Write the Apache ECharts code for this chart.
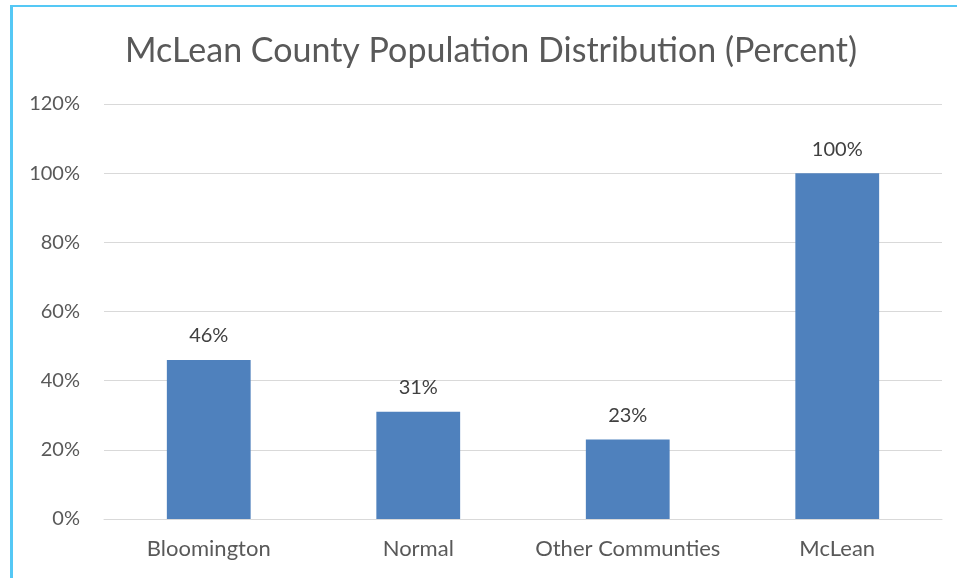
<!DOCTYPE html>
<html><head><meta charset="utf-8">
<script src="https://cdn.jsdelivr.net/npm/echarts@6/dist/echarts.min.js"></script>
<style>
html,body{margin:0;padding:0;background:#fff;}
#c{width:957px;height:578px;position:absolute;left:0;top:0;}
#bt{position:absolute;left:10px;top:5px;width:947px;height:2px;background:#55c8f5;}
#bl{position:absolute;left:10px;top:5px;width:3px;height:573px;background:#55c8f5;}
</style></head>
<body>
<div id="c"></div><div id="bt"></div><div id="bl"></div>
<script>
const categories = ["Bloomington", "Normal", "Other Communties", "McLean"];
const values = [46, 31, 23, 100];
const yTicks = [0, 20, 40, 60, 80, 100, 120];

const chart = echarts.init(document.getElementById('c'));
chart.setOption({
  animation: false,
  title: {
    text: 'McLean County Population Distribution (Percent)',
    left: 120, top: 29,
    textStyle: {fontFamily: 'Lato', fontSize: 34, fontWeight: 'normal', color: '#595959'}
  },
  grid: {left: 104, right: 15, top: 104, bottom: 59, containLabel: false},
  xAxis: {
    type: 'category', data: categories,
    axisLine: {lineStyle: {color: '#d9d9d9', width: 1}},
    axisTick: {show: false},
    axisLabel: {interval: 0, fontFamily: 'Lato', fontSize: 22, color: '#595959', margin: 19}
  },
  yAxis: {
    type: 'value', min: yTicks[0], max: yTicks[yTicks.length-1], interval: 20,
    axisLine: {show: false}, axisTick: {show: false},
    splitLine: {lineStyle: {color: '#d9d9d9', width: 1}},
    axisLabel: {fontFamily: 'Lato', fontSize: 20, color: '#595959', margin: 24, formatter: v => v + '%'}
  },
  series: [{
    type: 'bar', data: values, barWidth: '40%',
    itemStyle: {color: '#4f81bd'},
    label: {show: true, position: 'top', distance: 14, formatter: p => p.value + '%',
      fontFamily: 'Lato', fontSize: 20, color: '#404040'}
  }]
});
</script>
</body></html>
